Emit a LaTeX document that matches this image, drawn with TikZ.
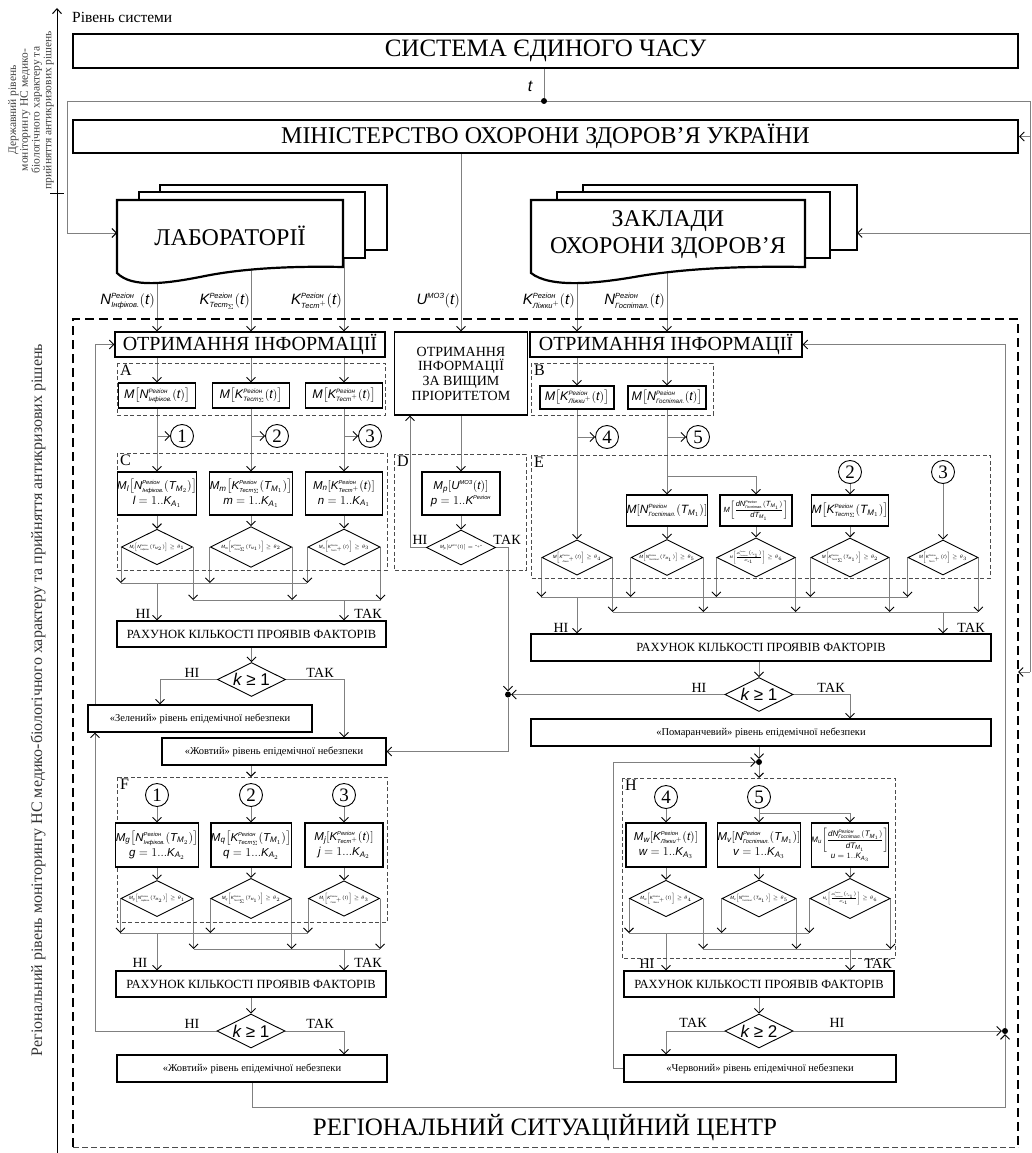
\documentclass[tikz,border=0pt]{standalone}
\usepackage{fontspec}
\usepackage{amsmath}
\setmainfont{Liberation Serif}
\newfontfamily\af{Liberation Sans}
\usetikzlibrary{arrows.meta,shapes.geometric,calc}
\pgfdeclarelayer{bg}
\pgfsetlayers{bg,main}
\newcommand{\ait}[1]{\text{\af\itshape #1}}
\newcommand{\sS}[1]{{\scriptscriptstyle\ait{#1}}}
\newcommand{\Ninf}[1]{\ait{N}^{\sS{Регіон}}_{\sS{Інфіков.}}(#1)}
\newcommand{\KTs}[1]{\ait{K}^{\sS{Регіон}}_{\sS{Тест}_{\scriptscriptstyle\Sigma}}(#1)}
\newcommand{\KTp}[1]{\ait{K}^{\sS{Регіон}}_{\sS{Тест}^{\scriptscriptstyle +}}(#1)}
\newcommand{\KLp}[1]{\ait{K}^{\sS{Регіон}}_{\sS{Ліжки}^{\scriptscriptstyle +}}(#1)}
\newcommand{\NGs}[1]{\ait{N}^{\sS{Регіон}}_{\sS{Госпітал.}}(#1)}
\newcommand{\TMi}[1]{\ait{T}_{\ait{M}_{#1}}}
\newcommand{\tI}{\ait{t}}
\newcommand{\KAi}[1]{\ait{K}_{\ait{A}_{#1}}}
\newcommand{\dNG}{\dfrac{\ait{dN}^{\sS{Регіон}}_{\sS{Госпітал.}}(\TMi{1})}{\ait{dT}_{\ait{M}_1}}}
\newcommand{\dNGs}{\frac{\ait{dN}^{\sS{Регіон}}_{\sS{Госпітал.}}(\TMi{1})}{\ait{dT}_{\ait{M}_1}}}
\newcommand{\Mb}[2]{\ait{M}_{\ait{#1}}\!\left[#2\right]}
\newcommand{\Mn}[1]{\ait{M}\!\left[#1\right]}
\begin{document}
\begin{tikzpicture}[x=1pt,y=-1pt,
  conn/.style={draw=black!50,line width=0.8pt},
  arr/.style={conn,-{Straight Barb[length=4.5pt,width=9pt,color=black,line width=0.9pt]}},
  bigbox/.style={draw,line width=2.2pt,fill=white,minimum width=945pt,minimum height=34pt,inner sep=0pt,font=\fontsize{24}{28}\selectfont},
  box/.style={draw,line width=1.1pt,fill=white,inner sep=0pt,align=center},
  fbox/.style={box,font=\fontsize{11.5}{13}\selectfont},
  sbox/.style={box,font=\fontsize{12.5}{14}\selectfont},
  tbox/.style={box,font=\fontsize{12.5}{14}\selectfont},
  lvl/.style={box,font=\fontsize{10.5}{12}\selectfont},
  dia/.style={draw,diamond,aspect=2,line width=0.9pt,fill=white,inner sep=0pt,minimum width=69pt,minimum height=35pt,font=\fontsize{4.6}{5.5}\selectfont},
  kdia/.style={draw,diamond,aspect=2,line width=0.9pt,fill=white,inner sep=0pt,minimum width=68pt,minimum height=34pt,font=\fontsize{17}{17}\selectfont\af},
  circ/.style={draw,circle,line width=0.9pt,fill=white,minimum size=23pt,inner sep=0pt,font=\fontsize{19}{19}\selectfont},
  jdot/.style={circle,fill=black,minimum size=6pt,inner sep=0pt},
  yn/.style={font=\fontsize{14}{14}\selectfont,inner sep=0pt},
  grp/.style={draw=black!70,line width=0.8pt,dash pattern=on 4pt off 2.5pt},
  glbl/.style={font=\fontsize{16}{16}\selectfont,anchor=north west,inner sep=0pt},
  inlbl/.style={font=\fontsize{15}{15}\selectfont,anchor=east,inner sep=0pt},
  doc/.style={draw,line width=2.2pt,fill=white,line join=miter}
]
\useasboundingbox (0,0) rectangle (1032,1153);

% ---------- axis and side texts
\draw[line width=1pt,-{Straight Barb[length=5pt,width=9pt]}] (57,1153) -- (57,8);
\draw[line width=1pt] (50,193) -- (64,193);
\node[anchor=west,font=\fontsize{15.5}{16}\selectfont,inner sep=0pt] (lvlsys) at (72,17) {Рівень системи};
\node[rotate=90,align=center,font=\fontsize{11.5}{11.7}\selectfont,text=black!75] (statelvl) at (31,110)
  {Державний рівень\\моніторингу НС медико-\\біологічного характеру та\\прийняття антикризових рішень};
\node[rotate=90,font=\fontsize{16}{16}\selectfont,text=black!80] (reglvl) at (38,700)
  {Регіональний рівень моніторингу НС медико-біологічного характеру та прийняття антикризових рішень};

% ---------- top
\node[bigbox,font=\fontsize{25}{28}\selectfont] (sys) at (545.5,51) {СИСТЕМА ЄДИНОГО ЧАСУ};
\node[bigbox,minimum height=33pt] (moz) at (545.5,136.5) {МІНІСТЕРСТВО ОХОРОНИ ЗДОРОВ'Я УКРАЇНИ};
\node[font=\fontsize{16}{16}\selectfont\af\itshape] (tl) at (530,86) {t};
\node[jdot] (tdot) at (544,101) {};

% ---------- document stacks
\draw[doc] (160,250) -- (160,185) -- (387,185) -- (387,250) -- cycle;
\draw[doc] (139,258) -- (139,192) -- (365,192) -- (365,258) -- cycle;
\draw[doc] (117,273) -- (117,200) -- (343,200) -- (343,267) .. controls (295,266) and (245,268) .. (205,276) .. controls (165,284) and (132,288) .. (117,273) -- cycle;
\node[font=\fontsize{24}{28}\selectfont] (lab) at (230,236) {ЛАБОРАТОРІЇ};

\draw[doc] (583,250) -- (583,185) -- (857,185) -- (857,250) -- cycle;
\draw[doc] (557,258) -- (557,192) -- (830,192) -- (830,258) -- cycle;
\draw[doc] (531,273) -- (531,200) -- (805,200) -- (805,267) .. controls (745,266) and (690,268) .. (640,276) .. controls (595,284) and (550,288) .. (531,273) -- cycle;
\node[font=\fontsize{24}{27}\selectfont,align=center] (zak) at (668,234.5) {ЗАКЛАДИ\\ОХОРОНИ ЗДОРОВ'Я};

% ---------- input labels
\node[inlbl] (lN) at (155,301) {$\Ninf{\tI}$};
\node[inlbl] (lKs) at (250,301) {$\KTs{\tI}$};
\node[inlbl] (lKp) at (342,301) {$\KTp{\tI}$};
\node[inlbl] (lU) at (460,301) {$\ait{U}^{\sS{МОЗ}}(\tI)$};
\node[inlbl] (lKL) at (575,301) {$\KLp{\tI}$};
\node[inlbl] (lNG) at (665,301) {$\NGs{\tI}$};

% ---------- regional frame
\draw[line width=2.4pt,dash pattern=on 9pt off 5pt] (73,1147) -- (73,319) -- (1018,319) -- (1018,1147);
\draw[draw=black!70,line width=1pt,dash pattern=on 6pt off 3pt] (73,1147) -- (1018,1147);
\node[font=\fontsize{25}{28}\selectfont] (rsc) at (545,1128) {РЕГІОНАЛЬНИЙ СИТУАЦІЙНИЙ ЦЕНТР};

% ---------- receiving boxes
\node[box,minimum width=270pt,minimum height=25pt,font=\fontsize{20}{22}\selectfont] (ol) at (250,344.5) {ОТРИМАННЯ ІНФОРМАЦІЇ};
\node[box,minimum width=133pt,minimum height=83pt,font=\fontsize{14}{14.7}\selectfont] (op) at (461,373.5) {ОТРИМАННЯ\\ІНФОРМАЦІЇ\\ЗА ВИЩИМ\\ПРІОРИТЕТОМ};
\node[box,minimum width=272pt,minimum height=25pt,font=\fontsize{20}{22}\selectfont] (orr) at (666,344.5) {ОТРИМАННЯ ІНФОРМАЦІЇ};

% ---------- A
\draw[grp] (117,363) rectangle (385,415);
\node[glbl] (gA) at (120,365) {A};
\node[sbox,minimum width=77pt,minimum height=25pt] (a1) at (157,395.5) {$\Mn{\Ninf{\tI}}$};
\node[sbox,minimum width=77pt,minimum height=25pt] (a2) at (251,395.5) {$\Mn{\KTs{\tI}}$};
\node[sbox,minimum width=77pt,minimum height=25pt] (a3) at (344,395.5) {$\Mn{\KTp{\tI}}$};
\node[circ] (q1) at (182,436) {1};
\node[circ] (q2) at (277,436) {2};
\node[circ] (q3) at (370,436) {3};

% ---------- C
\draw[grp] (117,453) rectangle (387,570);
\node[glbl] (gC) at (120,455) {C};
\node[fbox,minimum width=77pt,minimum height=43pt] (cb1) at (157,493.5) {$\Mb{l}{\Ninf{\TMi{2}}}$\\[2pt]$\ait{l}=1..\KAi{1}$};
\node[fbox,minimum width=77pt,minimum height=43pt] (cb2) at (251,493.5) {$\Mb{m}{\KTs{\TMi{1}}}$\\[2pt]$\ait{m}=1..\KAi{1}$};
\node[fbox,minimum width=77pt,minimum height=43pt] (cb3) at (344,493.5) {$\Mb{n}{\KTp{\tI}}$\\[2pt]$\ait{n}=1..\KAi{1}$};
\node[dia] (cd1) at (157,547) {$\Mb{l}{\Ninf{\TMi{2}}}\geq\theta_1$};
\node[dia] (cd2) at (251,547) {$\Mb{m}{\KTs{\TMi{1}}}\geq\theta_2$};
\node[dia] (cd3) at (344,547) {$\Mb{n}{\KTp{\tI}}\geq\theta_3$};
\node[tbox,minimum width=269pt,minimum height=26pt] (rah1) at (251.5,634) {РАХУНОК КІЛЬКОСТІ ПРОЯВІВ ФАКТОРІВ};
\node[kdia] (k1) at (251.5,679.5) {{\itshape k} ≥ 1};
\node[lvl,minimum width=224pt,minimum height=27pt] (zel) at (200,718.5) {«Зелений» рівень епідемічної небезпеки};
\node[lvl,minimum width=224pt,minimum height=27pt] (zh1) at (274,751.5) {«Жовтий» рівень епідемічної небезпеки};

% ---------- D
\draw[grp] (394,454) rectangle (526,570);
\node[glbl] (gD) at (397,456) {D};
\node[fbox,minimum width=78pt,minimum height=43pt] (db) at (461,493.5) {$\Mb{p}{\ait{U}^{\sS{МОЗ}}(\tI)}$\\[2pt]$\ait{p}=1..\ait{K}^{\sS{Регіон}}$};
\node[dia] (dd) at (461,547.5) {$\Mb{p}{\ait{U}^{\sS{МОЗ}}(\tI)}=\text{"+"}$};
\node[jdot] (dot1) at (508,694.5) {};

% ---------- B and E
\draw[grp] (531,363) rectangle (713,415);
\node[glbl] (gB) at (534,365) {B};
\node[sbox,minimum width=74pt,minimum height=23pt] (b1) at (577,397.5) {$\Mn{\KLp{\tI}}$};
\node[sbox,minimum width=78pt,minimum height=23pt] (b2) at (667,397.5) {$\Mn{\NGs{\tI}}$};
\node[circ] (q4) at (607,437) {4};
\node[circ] (q5) at (698,437) {5};

\draw[grp] (531,455) rectangle (990,578);
\node[glbl] (gE) at (534,457) {E};
\node[box,font=\fontsize{12}{13}\selectfont,minimum width=79pt,minimum height=31pt] (eb1) at (667,510.5) {$\Mn{\NGs{\TMi{1}}}$};
\node[box,font=\fontsize{7.5}{8}\selectfont,minimum width=72pt,minimum height=31pt] (eb2) at (756,510.5) {$\Mn{\dNG}$};
\node[box,font=\fontsize{12}{13}\selectfont,minimum width=72pt,minimum height=31pt] (eb3) at (850,510.5) {$\Mn{\KTs{\TMi{1}}}$};
\node[circ] (e2c) at (850,472) {2};
\node[circ] (e3c) at (943,472) {3};
\node[dia,minimum width=68pt] (ed1) at (577,557.5) {$\Mn{\KLp{\tI}}\geq\theta_4$};
\node[dia,minimum width=68pt] (ed2) at (667,557.5) {$\Mn{\NGs{\TMi{1}}}\geq\theta_5$};
\node[dia,minimum width=68pt,font=\fontsize{3.6}{4}\selectfont] (ed3) at (756,557.5) {$\Mn{\dNGs}\geq\theta_6$};
\node[dia,minimum width=68pt] (ed4) at (850,557.5) {$\Mn{\KTs{\TMi{1}}}\geq\theta_2$};
\node[dia,minimum width=68pt] (ed5) at (943,557.5) {$\Mn{\KTp{\tI}}\geq\theta_3$};
\node[tbox,minimum width=460pt,minimum height=27pt] (rah3) at (761,647.5) {РАХУНОК КІЛЬКОСТІ ПРОЯВІВ ФАКТОРІВ};
\node[kdia] (k3) at (759,694.5) {{\itshape k} ≥ 1};
\node[lvl,minimum width=460pt,minimum height=27pt] (pom) at (761,732.5) {«Помаранчевий» рівень епідемічної небезпеки};
\node[jdot] (dot2) at (759,762) {};

% ---------- F
\draw[grp] (117,777) rectangle (387,922);
\node[glbl] (gF) at (120,779) {F};
\node[circ] (f1c) at (157,795) {1};
\node[circ] (f2c) at (251,795) {2};
\node[circ] (f3c) at (344,795) {3};
\node[fbox,minimum width=77pt,minimum height=44pt] (fb1) at (157,845) {$\Mb{g}{\Ninf{\TMi{2}}}$\\[2pt]$\ait{g}=1...\KAi{2}$};
\node[fbox,minimum width=77pt,minimum height=44pt] (fb2) at (251,845) {$\Mb{q}{\KTs{\TMi{1}}}$\\[2pt]$\ait{q}=1...\KAi{2}$};
\node[fbox,minimum width=78pt,minimum height=44pt] (fb3) at (344,845) {$\Mb{j}{\KTp{\tI}}$\\[2pt]$\ait{j}=1...\KAi{2}$};
\node[dia] (fd1) at (157,898.5) {$\Mb{g}{\Ninf{\TMi{2}}}\geq\theta_1$};
\node[dia] (fd2) at (251,898.5) {$\Mb{q}{\KTs{\TMi{1}}}\geq\theta_2$};
\node[dia] (fd3) at (344,898.5) {$\Mb{j}{\KTp{\tI}}\geq\theta_3$};
\node[tbox,minimum width=270pt,minimum height=26pt] (rah2) at (251,984) {РАХУНОК КІЛЬКОСТІ ПРОЯВІВ ФАКТОРІВ};
\node[kdia] (k2) at (251,1031) {{\itshape k} ≥ 1};
\node[lvl,minimum width=270pt,minimum height=27pt] (zh2) at (252,1068.5) {«Жовтий» рівень епідемічної небезпеки};

% ---------- H
\draw[grp] (622,778) rectangle (895,958);
\node[glbl] (gH) at (625,780) {H};
\node[circ] (h4c) at (666,797) {4};
\node[circ] (h5c) at (759,797) {5};
\node[fbox,minimum width=80pt,minimum height=44pt] (hb1) at (666,845) {$\Mb{w}{\KLp{\tI}}$\\[2pt]$\ait{w}=1..\KAi{3}$};
\node[fbox,minimum width=79pt,minimum height=44pt] (hb2) at (759,845) {$\Mb{v}{\NGs{\TMi{1}}}$\\[2pt]$\ait{v}=1..\KAi{3}$};
\node[box,font=\fontsize{8}{10}\selectfont,minimum width=76pt,minimum height=44pt] (hb3) at (850,845) {$\Mb{u}{\dNG}$\\$\ait{u}=1..\KAi{3}$};
\node[dia] (hd1) at (666,898.5) {$\Mb{w}{\KLp{\tI}}\geq\theta_4$};
\node[dia] (hd2) at (759,898.5) {$\Mb{v}{\NGs{\TMi{1}}}\geq\theta_5$};
\node[dia,font=\fontsize{3.6}{4}\selectfont] (hd3) at (850,898.5) {$\Mb{u}{\dNGs}\geq\theta_6$};
\node[tbox,minimum width=270pt,minimum height=26pt] (rah4) at (759,984) {РАХУНОК КІЛЬКОСТІ ПРОЯВІВ ФАКТОРІВ};
\node[kdia] (k4) at (759,1031) {{\itshape k} ≥ 2};
\node[lvl,minimum width=272pt,minimum height=27pt] (cher) at (760,1068.5) {«Червоний» рівень епідемічної небезпеки};
\node[jdot] (dot3) at (1005,1031) {};

% ---------- yes/no labels
\node[yn] at (143,614) {НІ};   \node[yn] at (368,614) {ТАК};
\node[yn] at (192,673) {НІ};   \node[yn] at (320,673) {ТАК};
\node[yn] at (420,540) {НІ};   \node[yn] at (507,540) {ТАК};
\node[yn] at (561,628) {НІ};   \node[yn] at (971,628) {ТАК};
\node[yn] at (699,688) {НІ};   \node[yn] at (831,688) {ТАК};
\node[yn] at (140,963) {НІ};   \node[yn] at (368,963) {ТАК};
\node[yn] at (192,1024) {НІ};  \node[yn] at (320,1024) {ТАК};
\node[yn] at (647,964) {НІ};   \node[yn] at (878,964) {ТАК};
\node[yn] at (693,1023) {ТАК}; \node[yn] at (837,1023) {НІ};

% ---------- helper coordinates
\coordinate (XL) at (95,0);
\coordinate (XD) at (410,0);
\coordinate (XCL) at (613,0);
\coordinate (XO) at (1030,0);
\coordinate (XT) at (67,0);
\coordinate (BOT) at (0,1107);
\coordinate (BN1) at (0,583);  \coordinate (BT1) at (0,600);
\coordinate (BNE) at (0,597);  \coordinate (BTE) at (0,612);
\coordinate (BNF) at (0,933);  \coordinate (BTF) at (0,949);
\coordinate (EBR) at (0,476);  \coordinate (HBR) at (0,813);
\coordinate (Ftop) at (251,777);
\coordinate (Htop) at (759,778);
\coordinate (RegR) at (1018,672);
\coordinate (labin) at (117,233);
\coordinate (zakin) at (857,233);

\begin{pgfonlayer}{bg}
% top
\draw[conn] (sys.south -| tdot) -- (tdot);
\draw[conn] (XT |- tdot) -- (XO |- tdot) -- (XO |- RegR);
\draw[arr] (XT |- tdot) -- (XT |- labin) -- (labin);
\draw[arr] (XO |- moz.east) -- (moz.east);
\draw[arr] (XO |- zakin) -- (zakin);
\draw[arr] (XO |- RegR) -- (RegR);
% inputs
\draw[arr] (lab -| a1) -- (ol.north -| a1);
\draw[arr] (lab -| a2) -- (ol.north -| a2);
\draw[arr] (lab -| a3) -- (ol.north -| a3);
\draw[arr] (moz.south -| op) -- (op.north);
\draw[arr] (zak -| b1) -- (orr.north -| b1);
\draw[arr] (zak -| b2) -- (orr.north -| b2);
% left column
\foreach \i in {1,2,3}{
  \draw[arr] (ol.south -| a\i) -- (a\i.north);
  \draw[arr] (a\i.south) -- (cb\i.north);
  \draw[arr] (a\i.south |- q\i) -- (q\i.west);
  \draw[arr] (cb\i.south) -- (cd\i.north);
  \draw[arr] (cd\i.west) -- (cd\i.west |- BN1);
  \draw[arr] (cd\i.east) -- (cd\i.east |- BT1);
  \draw[arr] (f\i c.south) -- (fb\i.north);
  \draw[arr] (fb\i.south) -- (fd\i.north);
  \draw[arr] (fd\i.west) -- (fd\i.west |- BNF);
  \draw[arr] (fd\i.east) -- (fd\i.east |- BTF);
}
\draw[conn] (cd1.west |- BN1) -- (cd3.west |- BN1);
\draw[conn] (cd1.east |- BT1) -- (cd3.east |- BT1);
\draw[arr] (cd1 |- BN1) -- (rah1.north -| cd1);
\draw[arr] (cd3 |- BT1) -- (rah1.north -| cd3);
\draw[arr] (rah1.south -| k1) -- (k1.north);
\draw[arr] (k1.west) -| ($(zel.north)+(-40,0)$);
\draw[arr] (k1.east) -| (zh1.north -| cd3);
\draw[arr] (zel.north -| XL) |- (ol.west);
\draw[arr] (zh1.south -| Ftop) -- (Ftop);
\draw[conn] (fd1.west |- BNF) -- (fd3.west |- BNF);
\draw[conn] (fd1.east |- BTF) -- (fd3.east |- BTF);
\draw[arr] (fd1 |- BNF) -- (rah2.north -| fd1);
\draw[arr] (fd3 |- BTF) -- (rah2.north -| fd3);
\draw[arr] (rah2.south -| k2) -- (k2.north);
\draw[arr] (k2.west) -| (zel.south -| XL);
\draw[arr] (k2.east) -| (zh2.north -| fd3);
\draw[arr] (zh2.south) -- (zh2.south |- BOT) -| (dot3.south);
% D
\draw[arr] (op.south) -- (db.north);
\draw[arr] (db.south) -- (dd.north);
\draw[arr] (dd.west) -| (op.south -| XD);
\draw[arr] (dd.east) -| (dot1.north);
\draw[arr] (dot1.south) |- (zh1.east);
\draw[arr] (k3.west) -- (dot1.east);
% B, E
\draw[arr] (orr.south -| b1) -- (b1.north);
\draw[arr] (orr.south -| b2) -- (b2.north);
\draw[arr] (b1.south) -- (ed1.north);
\draw[arr] (b1.south |- q4) -- (q4.west);
\draw[arr] (b2.south) -- (eb1.north);
\draw[arr] (b2.south |- q5) -- (q5.west);
\draw[arr] (b2.south |- EBR) -| (eb2.north);
\draw[arr] (e2c.south) -- (eb3.north);
\draw[arr] (e3c.south) -- (ed5.north);
\draw[arr] (eb1.south) -- (ed2.north);
\draw[arr] (eb2.south) -- (ed3.north);
\draw[arr] (eb3.south) -- (ed4.north);
\foreach \i in {1,...,5}{
  \draw[arr] (ed\i.west) -- (ed\i.west |- BNE);
  \draw[arr] (ed\i.east) -- (ed\i.east |- BTE);
}
\draw[conn] (ed1.west |- BNE) -- (ed5.west |- BNE);
\draw[conn] (ed1.east |- BTE) -- (ed5.east |- BTE);
\draw[arr] (ed1 |- BNE) -- (rah3.north -| ed1);
\draw[arr] (ed5 |- BTE) -- (rah3.north -| ed5);
\draw[arr] (rah3.south -| k3) -- (k3.north);
\draw[arr] (k3.east) -| (pom.north -| eb3);
\draw[arr] (pom.south -| dot2) -- (dot2.north);
\draw[arr] (dot2.south) -- (Htop);
\draw[arr] (cher.west) -- (cher.west -| XCL) |- (dot2.west);
% H
\draw[arr] (h4c.south) -- (hb1.north);
\draw[arr] (h5c.south) -- (hb2.north);
\draw[arr] (h5c.south |- HBR) -| (hb3.north);
\draw[arr] (hb1.south) -- (hd1.north);
\draw[arr] (hb2.south) -- (hd2.north);
\draw[arr] (hb3.south) -- (hd3.north);
\foreach \i in {1,2,3}{
  \draw[arr] (hd\i.west) -- (hd\i.west |- BNF);
  \draw[arr] (hd\i.east) -- (hd\i.east |- BTF);
}
\draw[conn] (hd1.west |- BNF) -- (hd3.west |- BNF);
\draw[conn] (hd1.east |- BTF) -- (hd3.east |- BTF);
\draw[arr] (hd1 |- BNF) -- (rah4.north -| hd1);
\draw[arr] (hd3 |- BTF) -- (rah4.north -| hd3);
\draw[arr] (rah4.south -| k4) -- (k4.north);
\draw[arr] (k4.west) -| (cher.north -| hd1);
\draw[arr] (k4.east) -- (dot3.west);
\draw[arr] (dot3.north) |- (orr.east);
\end{pgfonlayer}
\end{tikzpicture}
\end{document}
